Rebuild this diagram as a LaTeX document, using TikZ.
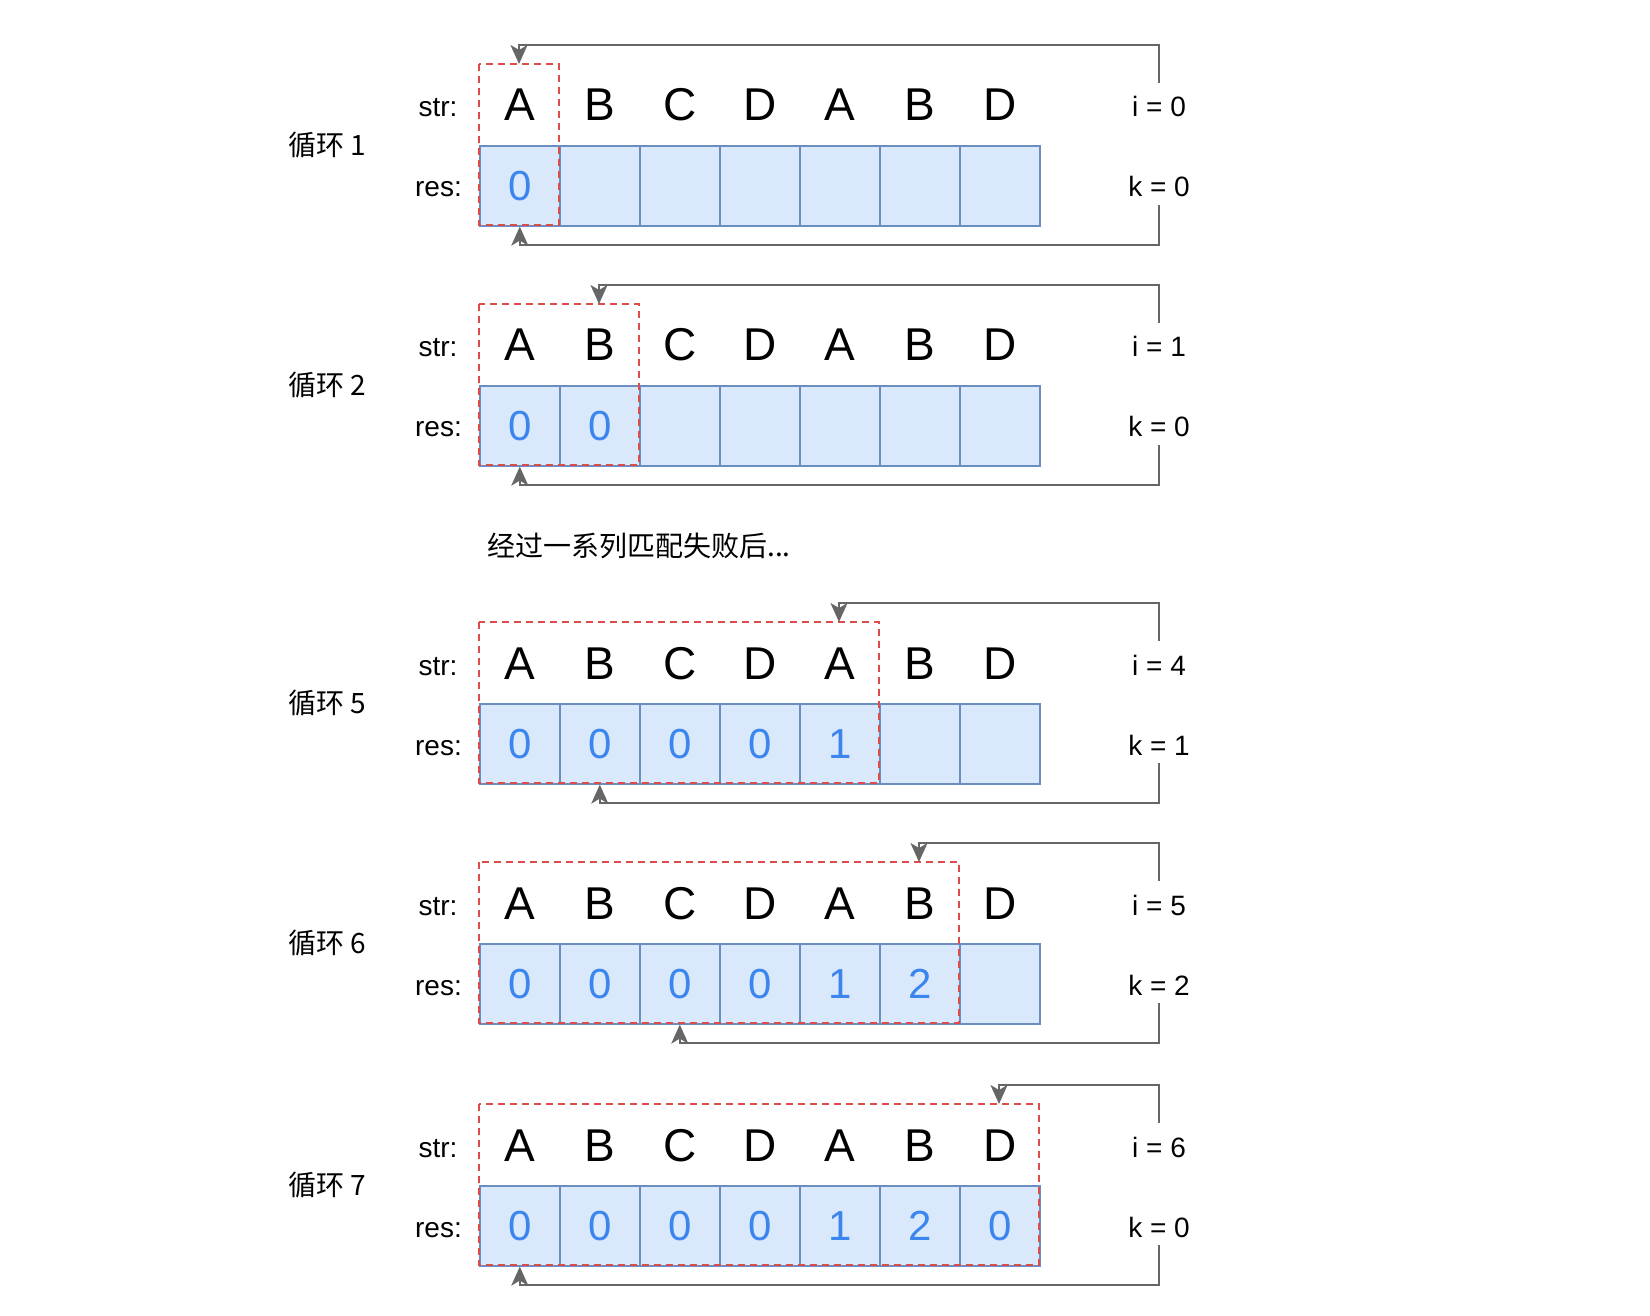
\documentclass[tikz,border=0pt]{standalone}
\usepackage{fontspec}
\setmainfont{Liberation Sans}
\newfontfamily\cjk{Noto Sans CJK SC}
\usetikzlibrary{arrows.meta}
\definecolor{cellfill}{HTML}{DAE8FC}
\definecolor{cellline}{HTML}{6C8EBF}
\definecolor{winred}{HTML}{DD4B4B}
\definecolor{numblue}{HTML}{3B86EE}
\definecolor{linkgray}{HTML}{666666}
\tikzset{
  cell/.style={draw=cellline, fill=cellfill, line width=0.8pt, minimum size=40pt, inner sep=0pt,
    anchor=north west, text=numblue, font=\fontsize{21pt}{24pt}\selectfont},
  letter/.style={anchor=base, inner sep=0pt, font=\fontsize{23pt}{26pt}\selectfont},
  label/.style={anchor=base, inner sep=0pt, font=\fontsize{14pt}{17pt}\selectfont},
  window/.style={draw=winred, line width=1pt, dash pattern=on 3.5pt off 2.5pt},
  link/.style={draw=linkgray, line width=1pt, -{Stealth[length=9.5pt, width=8.5pt, inset=2.5pt]}}
}
\begin{document}
\begin{tikzpicture}[x=0.5pt, y=-0.5pt]
  \useasboundingbox (0,0) rectangle (1650,1316);
  \foreach \b/\yt/\i/\k in {1/145/0/0, 2/385/1/0, 5/703/4/1, 6/943/5/2, 7/1185/6/0} {
    \node[inner sep=0pt, font=\cjk\fontsize{14pt}{17pt}\selectfont] (loop\b) at (327.5,\yt) {循环 \b};
    \node[label] (str\b) at (438,\yt-28) {str:};
    \node[label] (res\b) at (438.5,\yt+52) {res:};
    \foreach \ch/\v [count=\j from 0] in {A/0,B/0,C/0,D/0,A/1,B/2,D/0} {
      \node[letter] (s\b-\j) at (520+80*\j,\yt-24) {\ch};
      \node[cell] (r\b-\j) at (479+80*\j,\yt) {\ifnum\j>\i\else\v\fi};
    }
    \draw[window] (479,\yt-81) rectangle ({479+80*(\i+1)},\yt+80);
    \node[label] (i\b) at (1159,\yt-28) {i = \i};
    \node[label] (k\b) at (1159,\yt+52) {k = \k};
    \coordinate (it\b) at (1159,\yt-62);
    \coordinate (ip\b) at (519+80*\i,\yt-81);
    \coordinate (kt\b) at (1159,\yt+60);
    \draw[link] (it\b) -- ++(0,-38) -| (ip\b);
    \draw[link] (kt\b) -- ++(0,40) -| (r\b-\k.south);
  }
  \node[anchor=west, inner sep=0pt, font=\cjk\fontsize{14pt}{17pt}\selectfont] (skip) at (487,546) {经过一系列匹配失败后...};
\end{tikzpicture}
\end{document}
